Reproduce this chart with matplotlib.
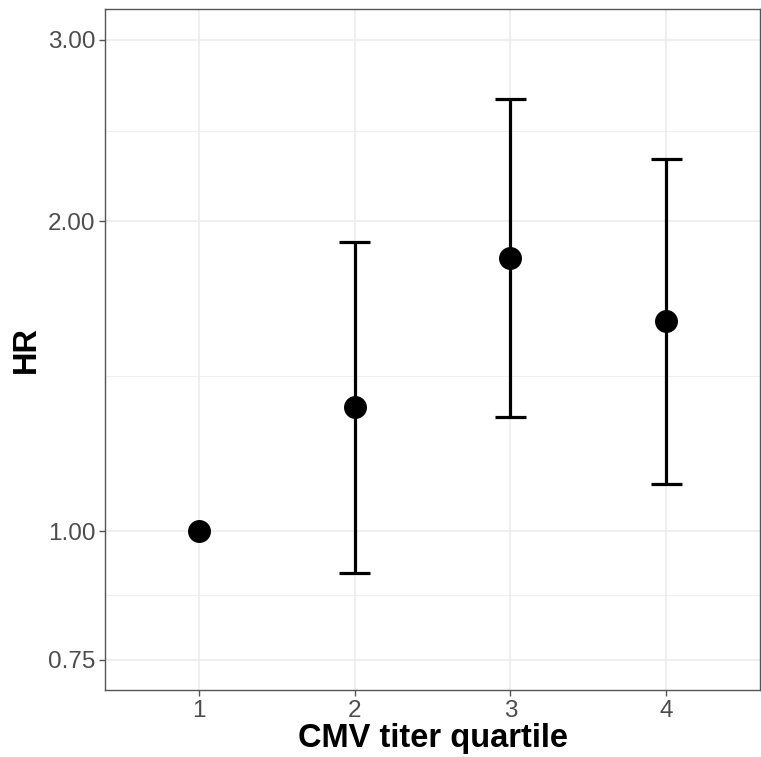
import matplotlib
matplotlib.use("Agg")
import matplotlib.pyplot as plt
import numpy as np
from matplotlib.ticker import FixedLocator, NullFormatter

plt.rcParams['font.family'] = ['Liberation Sans', 'DejaVu Sans']

quartiles = [1, 2, 3, 4]
hr = [1.00, 1.32, 1.84, 1.60]
lower = [np.nan, 0.91, 1.29, 1.11]
upper = [np.nan, 1.91, 2.63, 2.30]
ytick_vals = [0.75, 1.00, 2.00, 3.00]
ytick_labels = ["0.75", "1.00", "2.00", "3.00"]
minor_vals = [np.sqrt(0.75 * 1.0), np.sqrt(1.0 * 2.0), np.sqrt(2.0 * 3.0)]

fig = plt.figure(figsize=(7.61, 7.57), dpi=100)
ax = fig.add_axes([105/761, 1 - 690/757, (760 - 105)/761, (690 - 9)/757])
ax.set_yscale('log')

# grid
for v in ytick_vals:
    ax.axhline(v, color='#EBEBEB', lw=1.1, zorder=0)
for v in minor_vals:
    ax.axhline(v, color='#EBEBEB', lw=0.55, zorder=0)
for q in quartiles:
    ax.axvline(q, color='#EBEBEB', lw=1.1, zorder=0)

# error bars
for q, lo, hi in zip(quartiles, lower, upper):
    if np.isnan(lo):
        continue
    ax.vlines(q, lo, hi, color='black', lw=2.3, zorder=2)
    ax.hlines([lo, hi], q - 0.1, q + 0.1, color='black', lw=2.3, zorder=2)

ax.plot(quartiles, hr, 'o', color='black', markersize=15.5, zorder=3)

ax.set_xlim(0.4, 4.6)
ax.set_ylim(0.7007, 3.215)
ax.yaxis.set_major_locator(FixedLocator(ytick_vals))
ax.yaxis.set_minor_locator(FixedLocator([]))
ax.yaxis.set_minor_formatter(NullFormatter())
ax.set_yticklabels(ytick_labels)
ax.set_xticks(quartiles)
ax.set_xticklabels([str(q) for q in quartiles])

ax.tick_params(axis='both', colors='#555555', labelcolor='#4D4D4D', labelsize=17.5,
               length=4, width=1.0)
ax.tick_params(axis='x', pad=3)
ax.tick_params(axis='y', pad=3)
for s in ax.spines.values():
    s.set_color('#555555')
    s.set_linewidth(1.0)

ax.set_xlabel('CMV titer quartile', fontsize=23.5, fontweight='bold', labelpad=1)
ax.set_ylabel('HR', fontsize=23.5, fontweight='bold', labelpad=4)

fig.savefig('out.png', dpi=100)
